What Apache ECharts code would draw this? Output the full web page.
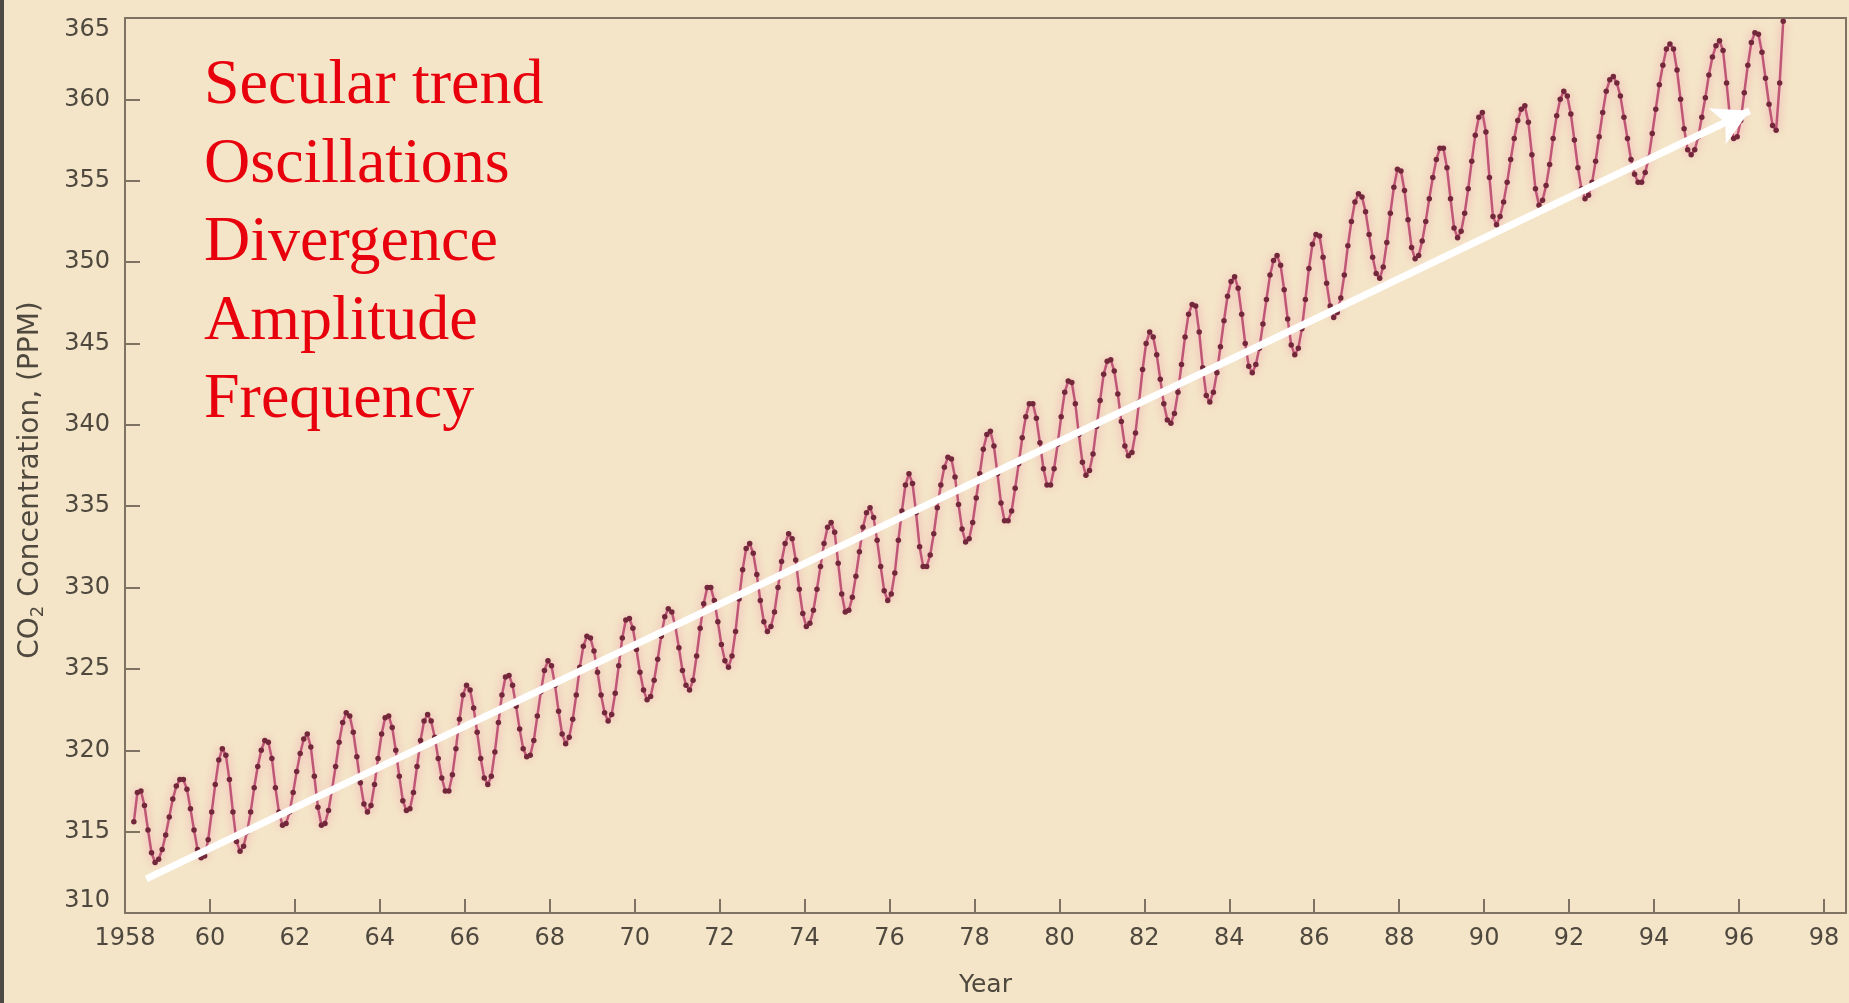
<!DOCTYPE html>
<html>
<head>
<meta charset="utf-8">
<script src="https://cdn.jsdelivr.net/npm/echarts@6/dist/echarts.min.js"></script>
<style>
html,body{margin:0;padding:0;background:#f4e5c8;}
#chart{width:1849px;height:1003px;}
</style>
</head>
<body>
<div id="chart"></div>
<script>
// ---- data (monthly CO2 readings as drawn in the figure, starting March 1958) ----
const startYear = 1958;
const startMonth = 3;

const co2_1958_1959 = [
  315.6, 317.4, 317.5, 316.6, 315.1, 313.7, 313.1, 313.3, 313.9, 314.8,
  315.9, 317.0, 317.8, 318.2, 318.2, 317.6, 316.4, 315.1, 313.9, 313.4, 313.5, 314.5
];
const co2_1960s = [
  316.2, 317.9, 319.4, 320.1, 319.7, 318.2, 316.2, 314.4, 313.8, 314.1, 315.0, 316.2,
  317.7, 319.0, 320.0, 320.6, 320.5, 319.5, 317.7, 316.2, 315.4, 315.5, 316.2, 317.4,
  318.7, 319.8, 320.7, 321.0, 320.2, 318.4, 316.5, 315.4, 315.5, 316.3, 317.6, 319.0,
  320.5, 321.7, 322.3, 322.1, 321.1, 319.6, 318.0, 316.7, 316.2, 316.6, 317.9, 319.5,
  321.0, 322.0, 322.1, 321.4, 320.0, 318.4, 316.9, 316.3, 316.4, 317.4, 319.0, 320.6,
  321.8, 322.2, 321.8, 320.8, 319.5, 318.3, 317.5, 317.5, 318.5, 320.1, 321.9, 323.4,
  324.0, 323.7, 322.6, 321.1, 319.5, 318.3, 317.9, 318.4, 319.9, 321.7, 323.4, 324.5,
  324.6, 324.0, 322.7, 321.3, 320.1, 319.6, 319.7, 320.6, 322.1, 323.6, 324.9, 325.5,
  325.2, 324.0, 322.4, 321.0, 320.4, 320.8, 321.9, 323.4, 325.1, 326.4, 327.0, 326.9,
  326.1, 324.8, 323.4, 322.3, 321.8, 322.2, 323.5, 325.2, 326.9, 328.0, 328.1, 327.5
];
const co2_1970s = [
  326.2, 324.8, 323.7, 323.1, 323.3, 324.3, 325.6, 327.0, 328.2, 328.7, 328.5, 327.6,
  326.3, 324.9, 324.0, 323.7, 324.3, 325.8, 327.5, 329.0, 330.0, 330.0, 329.2, 327.9,
  326.5, 325.5, 325.1, 325.8, 327.3, 329.3, 331.1, 332.4, 332.7, 332.1, 330.8, 329.2,
  327.9, 327.3, 327.6, 328.5, 330.0, 331.6, 332.7, 333.3, 333.0, 331.7, 329.9, 328.4,
  327.6, 327.8, 328.6, 329.9, 331.3, 332.7, 333.7, 334.0, 333.4, 331.5, 329.6, 328.5,
  328.6, 329.4, 330.7, 332.2, 333.7, 334.6, 334.9, 334.3, 332.9, 331.3, 329.8, 329.2,
  329.6, 330.9, 332.9, 334.7, 336.3, 337.0, 336.4, 334.6, 332.5, 331.3, 331.3, 332.0,
  333.3, 334.9, 336.3, 337.4, 338.0, 337.9, 336.8, 335.1, 333.6, 332.8, 333.0, 334.0,
  335.5, 337.0, 338.5, 339.4, 339.6, 338.7, 337.0, 335.2, 334.1, 334.1, 334.7, 336.1,
  337.6, 339.2, 340.5, 341.3, 341.3, 340.4, 338.9, 337.3, 336.3, 336.3, 337.3, 338.8
];
const co2_1980s = [
  340.5, 342.0, 342.7, 342.6, 341.3, 339.4, 337.7, 336.9, 337.2, 338.2, 339.9, 341.5,
  343.1, 343.9, 344.0, 343.3, 341.9, 340.2, 338.7, 338.1, 338.3, 339.5, 341.4, 343.4,
  345.0, 345.7, 345.4, 344.3, 342.8, 341.3, 340.3, 340.1, 340.7, 342.0, 343.7, 345.4,
  346.8, 347.4, 347.3, 345.7, 343.5, 341.8, 341.4, 342.0, 343.2, 344.8, 346.4, 347.9,
  348.8, 349.1, 348.4, 346.8, 345.0, 343.6, 343.2, 343.7, 344.7, 346.2, 347.7, 349.2,
  350.1, 350.4, 349.8, 348.3, 346.5, 344.9, 344.3, 344.7, 345.9, 347.7, 349.6, 351.1,
  351.7, 351.6, 350.3, 348.7, 347.3, 346.6, 346.9, 347.8, 349.2, 351.0, 352.5, 353.7,
  354.2, 354.0, 353.1, 351.7, 350.3, 349.3, 349.0, 349.7, 351.2, 353.0, 354.6, 355.7,
  355.6, 354.4, 352.6, 350.9, 350.2, 350.4, 351.3, 352.5, 353.9, 355.2, 356.3, 357.0,
  357.0, 355.8, 353.9, 352.1, 351.5, 351.9, 353.0, 354.5, 356.2, 357.8, 358.9, 359.2
];
const co2_1990s = [
  358.0, 355.2, 352.8, 352.3, 352.8, 353.7, 354.9, 356.3, 357.6, 358.7, 359.4, 359.6,
  358.6, 356.6, 354.5, 353.5, 353.8, 354.7, 356.0, 357.6, 359.0, 360.0, 360.5, 360.2,
  359.1, 357.5, 355.8, 354.5, 353.9, 354.1, 354.9, 356.2, 357.7, 359.2, 360.5, 361.2,
  361.4, 361.0, 360.2, 358.9, 357.6, 356.3, 355.4, 354.9, 354.9, 355.5, 356.4, 357.9,
  359.4, 360.9, 362.1, 363.1, 363.4, 363.1, 361.8, 360.0, 358.2, 356.9, 356.6, 356.9,
  357.7, 358.9, 360.1, 361.5, 362.6, 363.3, 363.6, 363.0, 361.0, 358.8, 357.6, 357.7,
  358.7, 360.4, 362.1, 363.5, 364.1, 364.0, 362.9, 361.3, 359.7, 358.4, 358.1, 361.0,
  364.8
];

const annotations = ['Secular trend', 'Oscillations', 'Divergence', 'Amplitude', 'Frequency'];
const trendArrow = [[1958.5, 312.1], [1996.25, 359.3]];   // [year, ppm] start and end
const yearRange = [1958, 1998.52];
const ppmRange = [310, 365];

// ---- build chart ----
const monthly = [].concat(co2_1958_1959, co2_1960s, co2_1970s, co2_1980s, co2_1990s);
const points = monthly.map((v, i) => [startYear + (startMonth - 1 + i + 0.5) / 12, v]);

const axisColor = '#7e7363';
const labelColor = '#4e483e';
const labelFont = 'DejaVu Sans';

const chart = echarts.init(document.getElementById('chart'));

const graphics = [
  { type: 'rect', left: 0, top: 0, shape: { width: 4, height: 1003 }, style: { fill: '#4d4a45' }, z: 10 },
  {
    type: 'text', x: 31, y: 480, rotation: Math.PI / 2, z: 10,
    style: {
      text: '{a|CO}{s|2}{a| Concentration, (PPM)}',
      align: 'center', verticalAlign: 'middle',
      rich: {
        a: { fontFamily: labelFont, fontSize: 28, fill: labelColor, lineHeight: 32 },
        s: { fontFamily: labelFont, fontSize: 18, fill: labelColor, lineHeight: 32, verticalAlign: 'bottom', padding: [10, 0, 0, 0] }
      }
    }
  }
];
const textMiddles = [86, 165, 243, 322, 400];
annotations.forEach((t, i) => {
  graphics.push({
    type: 'text', x: 204, y: textMiddles[i], z: 20,
    style: {
      text: t, fill: '#e8000d',
      font: '64px "Liberation Serif", "Times New Roman", serif',
      verticalAlign: 'middle', align: 'left'
    }
  });
});

chart.setOption({
  animation: false,
  backgroundColor: '#f4e5c8',
  grid: {
    left: 125, top: 18, right: 2, bottom: 73,
    show: true, borderColor: axisColor, borderWidth: 2, backgroundColor: 'transparent'
  },
  xAxis: {
    type: 'value',
    min: yearRange[0], max: yearRange[1], interval: 2,
    name: 'Year', nameLocation: 'middle', nameGap: 60,
    nameTextStyle: { fontFamily: labelFont, fontSize: 25, color: labelColor },
    axisLine: { show: true, lineStyle: { color: axisColor, width: 2 } },
    axisTick: { show: true, inside: true, length: 14, lineStyle: { color: axisColor, width: 2 } },
    splitLine: { show: false },
    axisLabel: {
      fontFamily: labelFont, fontSize: 24, color: labelColor, margin: 14,
      formatter: v => {
        if (Math.abs(v - Math.round(v)) > 1e-6) return '';
        const y = Math.round(v);
        if (y % 2 !== 0) return '';
        return y === 1958 ? '1958' : String(y % 100).padStart(2, '0');
      }
    }
  },
  yAxis: {
    type: 'value',
    min: ppmRange[0], max: ppmRange[1], interval: 5,
    axisLine: { show: true, lineStyle: { color: axisColor, width: 2 } },
    axisTick: { show: true, inside: true, length: 15, lineStyle: { color: axisColor, width: 2 } },
    splitLine: { show: false },
    axisLabel: {
      fontFamily: labelFont, fontSize: 24, color: labelColor, margin: 15,
      verticalAlignMinLabel: 'bottom', verticalAlignMaxLabel: 'top'
    }
  },
  series: [
    {
      type: 'line',
      data: points,
      symbol: 'circle',
      symbolSize: 5.5,
      showAllSymbol: true,
      smooth: false,
      clip: true,
      lineStyle: { color: '#bf5676', width: 2.5, shadowColor: 'rgba(240,130,165,0.85)', shadowBlur: 8 },
      itemStyle: { color: '#72283a', borderWidth: 0 },
      emphasis: { disabled: true },
      z: 3
    },
    {
      type: 'line',
      data: [],
      markLine: {
        silent: true,
        symbol: ['none', 'arrow'],
        symbolSize: [30, 36],
        label: { show: false },
        lineStyle: { color: '#ffffff', width: 7, type: 'solid', opacity: 1 },
        emphasis: { disabled: true },
        data: [[{ coord: trendArrow[0] }, { coord: trendArrow[1] }]]
      },
      z: 5
    }
  ],
  graphic: graphics
});
</script>
</body>
</html>
